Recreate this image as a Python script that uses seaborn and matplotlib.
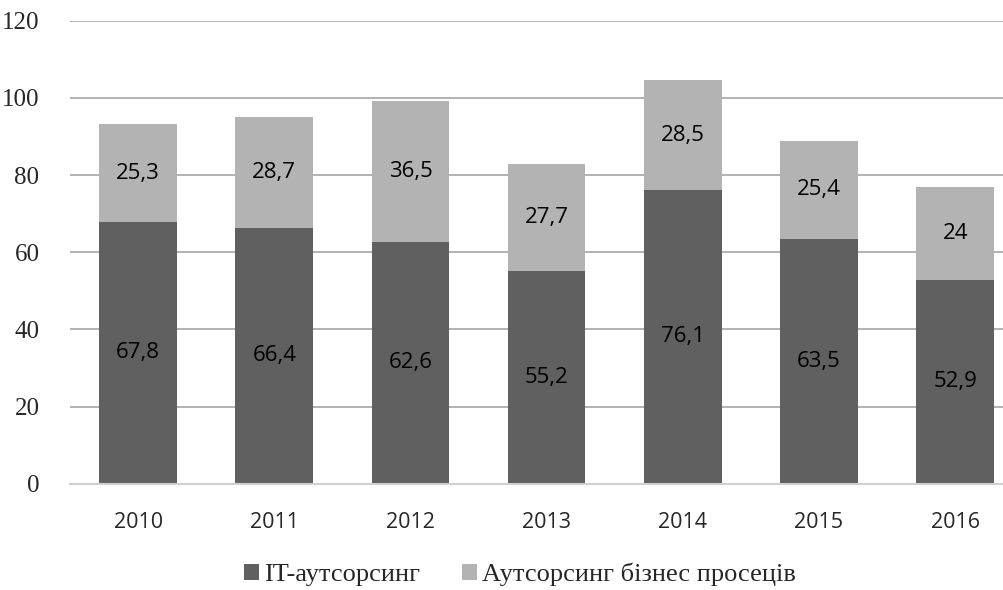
import matplotlib
matplotlib.use("Agg")
import matplotlib.pyplot as plt
import seaborn as sns
import pandas as pd
from matplotlib.patches import Patch

# Data
years = ["2010", "2011", "2012", "2013", "2014", "2015", "2016"]
it_outsourcing = [67.8, 66.4, 62.6, 55.2, 76.1, 63.5, 52.9]
bpo_outsourcing = [25.3, 28.7, 36.5, 27.7, 28.5, 25.4, 24]
series_names = ["IT-аутсорсинг", "Аутсорсинг бізнес просеців"]

dark = "#606060"
light = "#b3b3b3"

df = pd.DataFrame({"year": years, "it": it_outsourcing, "bpo": bpo_outsourcing})
df["total"] = df["it"] + df["bpo"]

sns.set_style("white")
# serif for axis numbers and legend (set after set_style)
plt.rcParams["font.family"] = ["Liberation Serif", "DejaVu Serif"]

fig = plt.figure(figsize=(10.04, 5.9), dpi=100)
ax = fig.add_axes([0.0697, 0.18, 0.94, 0.785])

# stacked bars: total in light, IT drawn over it in dark
sns.barplot(data=df, x="year", y="total", color=light, width=0.57,
            saturation=1, linewidth=0, ax=ax, zorder=2)
sns.barplot(data=df, x="year", y="it", color=dark, width=0.57,
            saturation=1, linewidth=0, ax=ax, zorder=3)

# value labels
for i, row in df.iterrows():
    ax.text(i, row["it"] / 2, f"{row['it']:g}".replace(".", ","),
            ha="center", va="center", fontsize=16, family="Open Sans",
            color="black", zorder=4)
    ax.text(i, row["it"] + row["bpo"] / 2, f"{row['bpo']:g}".replace(".", ","),
            ha="center", va="center", fontsize=16, family="Open Sans",
            color="black", zorder=4)

ax.set_ylim(0, 120)
ax.set_xlim(-0.5, 6.43)
ax.set_yticks(range(0, 121, 20))
ax.set_xticks(range(len(years)))
ax.set_xticklabels(years, fontdict={"family": "Open Sans", "size": 15.5})
ax.yaxis.grid(True, color="#a6a6a6", linewidth=1.2, zorder=0)
ax.set_axisbelow(True)
for s in ["left", "right", "top"]:
    ax.spines[s].set_visible(False)
ax.spines["bottom"].set_color("#d0d0d0")
ax.spines["bottom"].set_linewidth(1.5)
ax.spines["bottom"].set_zorder(5)

ax.set_xlabel("")
ax.set_ylabel("")
ax.tick_params(axis="y", length=0, pad=22, labelsize=18)
ax.tick_params(axis="x", length=0, pad=20)

handles = [Patch(facecolor=dark, edgecolor="none"),
           Patch(facecolor=light, edgecolor="none")]
fig.legend(handles, series_names, loc="center", bbox_to_anchor=(0.518, 0.026),
           ncol=2, frameon=False, handlelength=0.55, handleheight=0.55,
           handletextpad=0.2, columnspacing=1.6, fontsize=19)

fig.savefig("out.png", dpi=100)
